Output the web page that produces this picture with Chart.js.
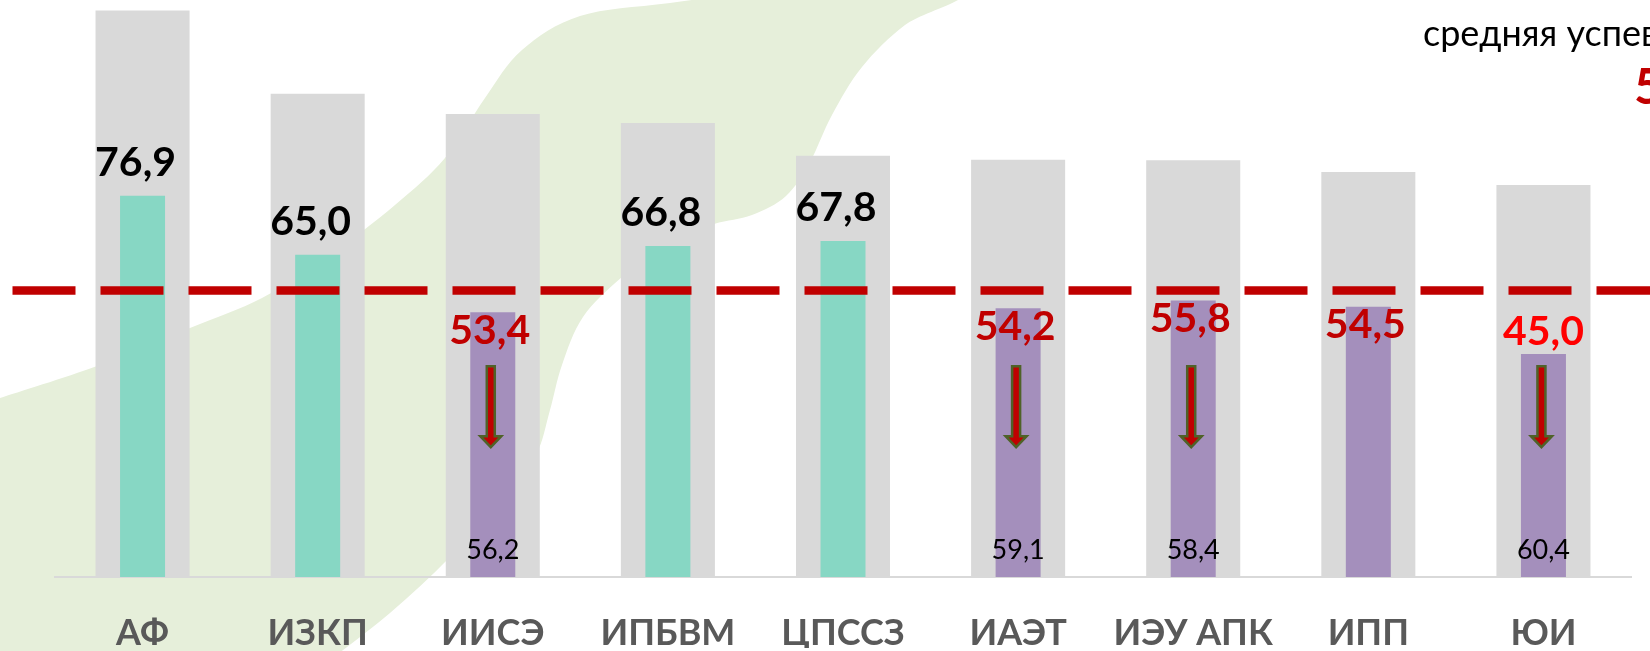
<!DOCTYPE html>
<html><head><meta charset="utf-8">
<script src="https://cdn.jsdelivr.net/npm/chart.js@4.4.1/dist/chart.umd.min.js"></script>
<style>html,body{margin:0;padding:0;background:#fff;overflow:hidden}canvas{display:block}</style>
</head><body>
<canvas id="c" width="1650" height="651" style="width:1650px;height:651px"></canvas>
<script>
const categories = ['АФ','ИЗКП','ИИСЭ','ИПБВМ','ЦПССЗ','ИАЭТ','ИЭУ АПК','ИПП','ЮИ'];
const currentValues = [76.9, 65.0, 53.4, 66.8, 67.8, 54.2, 55.8, 54.5, 45.0];
const previousValues = [null, null, 56.2, null, null, 59.1, 58.4, null, 60.4];
const backgroundValues = [114.3, 97.5, 93.4, 91.6, 85.0, 84.2, 84.1, 81.7, 79.1];
const averageValue = 57.8;
const averageTitle = 'средняя успеваемость';

const fmt = v => v.toFixed(1).replace('.', ',');
const TEAL = '#87D7C4', PURPLE = '#A48FBC', GRAY = '#D9D9D9', DARKRED = '#C00000';

function blobPath(ctx) {
  const P = [[0,398],[97,366],[190,328],[262,298],[330,255],[395,205],[445,158],[485,98],[522,50],[580,16],[670,3],[800,-12],[960,-8],[905,25],[862,67],[832,115],[810,162],[786,196],[752,215],[714,224],[670,240],[622,277],[583,317],[562,365],[550,410],[536,455],[505,495],[450,557],[390,613],[330,660]];
  ctx.beginPath();
  ctx.moveTo(P[0][0], P[0][1]);
  for (let i = 0; i < P.length - 1; i++) {
    const p0 = P[Math.max(0, i - 1)], p1 = P[i], p2 = P[i + 1], p3 = P[Math.min(P.length - 1, i + 2)];
    const c1x = p1[0] + (p2[0] - p0[0]) / 6, c1y = p1[1] + (p2[1] - p0[1]) / 6;
    const c2x = p2[0] - (p3[0] - p1[0]) / 6, c2y = p2[1] - (p3[1] - p1[1]) / 6;
    ctx.bezierCurveTo(c1x, c1y, c2x, c2y, p2[0], p2[1]);
  }
  ctx.lineTo(0, 660);
  ctx.closePath();
}

function drawArrow(ctx, x, yTop, yTip) {
  const sw = 4, hw = 10.5, hh = 11;
  ctx.beginPath();
  ctx.moveTo(x - sw, yTop);
  ctx.lineTo(x + sw, yTop);
  ctx.lineTo(x + sw, yTip - hh);
  ctx.lineTo(x + hw, yTip - hh);
  ctx.lineTo(x, yTip);
  ctx.lineTo(x - hw, yTip - hh);
  ctx.lineTo(x - sw, yTip - hh);
  ctx.closePath();
  ctx.fillStyle = DARKRED;
  ctx.fill();
  ctx.lineWidth = 2.5;
  ctx.strokeStyle = '#4F6228';
  ctx.stroke();
}

const decorPlugin = {
  id: 'decor',
  beforeDraw(chart) {
    const ctx = chart.ctx;
    ctx.save();
    blobPath(ctx);
    ctx.fillStyle = '#E6EFDA';
    ctx.fill();
    ctx.restore();
  },
  afterDatasetsDraw(chart) {
    const ctx = chart.ctx;
    const y = chart.scales.y;
    const area = chart.chartArea;
    ctx.save();
    const ay = y.getPixelForValue(averageValue);
    ctx.strokeStyle = DARKRED;
    ctx.lineWidth = 8.5;
    ctx.setLineDash([63, 25]);
    ctx.beginPath();
    ctx.moveTo(12.5, ay);
    ctx.lineTo(chart.width, ay);
    ctx.stroke();
    ctx.setLineDash([]);

    const meta = chart.getDatasetMeta(0);
    meta.data.forEach((bar, i) => {
      const v = currentValues[i];
      const prev = previousValues[i];
      const above = v >= averageValue;
      ctx.textAlign = 'center';
      ctx.textBaseline = 'middle';
      ctx.font = 'bold 41px Lato';
      if (above) {
        ctx.fillStyle = '#000';
        ctx.fillText(fmt(v), bar.x - 7, bar.y - 33);
      } else if (v < 50) {
        ctx.fillStyle = '#FF0000';
        ctx.fillText(fmt(v), bar.x, bar.y - 22);
      } else {
        ctx.fillStyle = DARKRED;
        ctx.fillText(fmt(v), bar.x - 3, bar.y + 18);
      }
      if (prev !== null) {
        if (prev > v) drawArrow(ctx, bar.x - 2, y.getPixelForValue(42.5), y.getPixelForValue(26.2));
        ctx.font = '27px Lato';
        ctx.fillStyle = '#000';
        ctx.fillText(fmt(prev), bar.x, area.bottom - 27);
      }
    });

    ctx.textAlign = 'left';
    ctx.textBaseline = 'alphabetic';
    ctx.font = '36px Lato';
    ctx.fillStyle = '#000';
    ctx.fillText(averageTitle, 1423, 46);
    ctx.font = 'bold 50px Lato';
    ctx.fillStyle = DARKRED;
    ctx.fillText(fmt(averageValue), 1634, 104);
    ctx.restore();
  }
};

function build() {
  new Chart(document.getElementById('c'), {
    type: 'bar',
    data: {
      labels: categories,
      datasets: [
        {
          label: 'current',
          data: currentValues,
          backgroundColor: ctx => (currentValues[ctx.dataIndex] >= averageValue ? TEAL : PURPLE),
          grouped: false, barPercentage: 0.257, categoryPercentage: 1, order: 1
        },
        {
          label: 'background',
          data: backgroundValues,
          backgroundColor: GRAY,
          grouped: false, barPercentage: 0.537, categoryPercentage: 1, order: 2
        }
      ]
    },
    options: {
      responsive: false,
      devicePixelRatio: 1,
      animation: false,
      layout: { padding: { left: 55, right: 19, top: 2, bottom: 3 } },
      plugins: { legend: { display: false }, tooltip: { enabled: false } },
      scales: {
        x: {
          grid: { display: false, drawTicks: false },
          border: { display: true, color: '#D9D9D9', width: 2 },
          ticks: { color: '#595959', font: { family: 'Lato', weight: 'bold', size: 36 }, padding: 35, maxRotation: 0, autoSkip: false },
          afterFit: s => { s.height = 71; }
        },
        y: { display: false, min: 0, max: 116 }
      }
    },
    plugins: [decorPlugin]
  });
}
Promise.all([
  document.fonts.load('bold 38px Lato'),
  document.fonts.load('27px Lato'),
  document.fonts.load('36px Lato')
]).then(build, build);
</script>
</body></html>
